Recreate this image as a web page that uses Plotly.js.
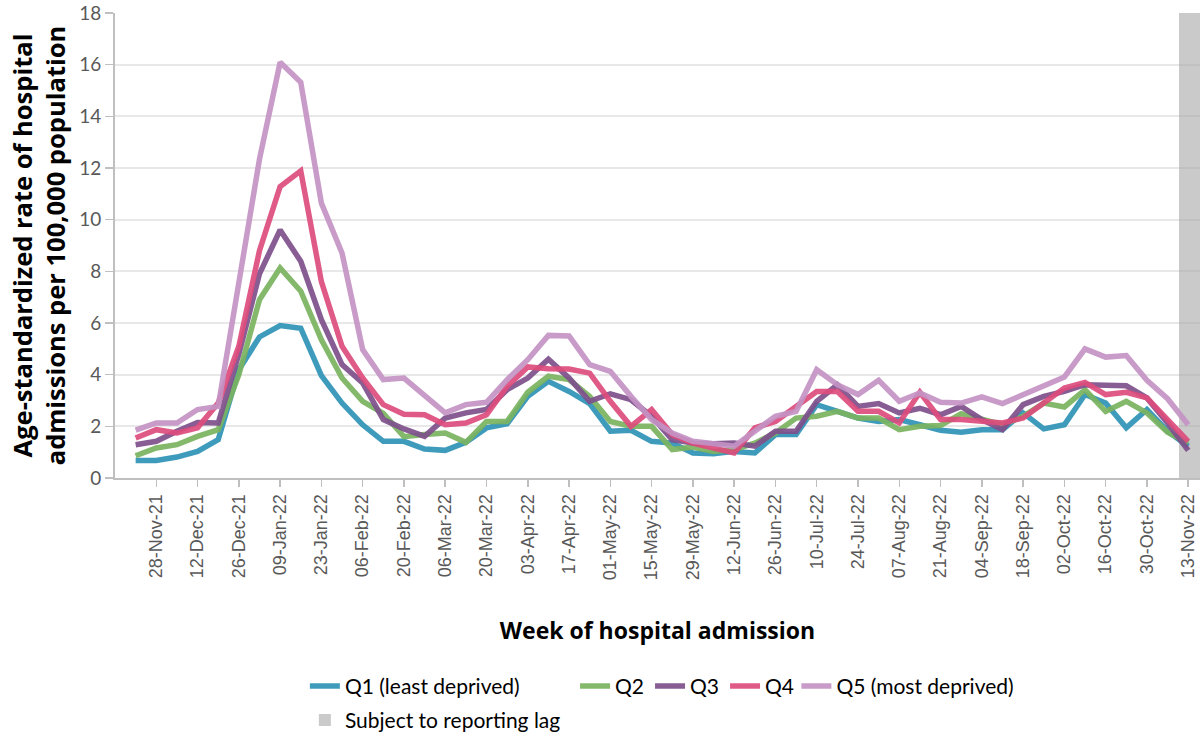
<!DOCTYPE html>
<html>
<head>
<meta charset="utf-8">
<script src="https://cdn.plot.ly/plotly-3.0.1.min.js"></script>
<style>
  html, body { margin: 0; padding: 0; background: #fff; }
  #chart { width: 1201px; height: 738px; }
</style>
</head>
<body>
<div id="chart"></div>
<script>
var weeks = [
  '2021-11-21','2021-11-28','2021-12-05','2021-12-12','2021-12-19','2021-12-26',
  '2022-01-02','2022-01-09','2022-01-16','2022-01-23','2022-01-30',
  '2022-02-06','2022-02-13','2022-02-20','2022-02-27',
  '2022-03-06','2022-03-13','2022-03-20','2022-03-27',
  '2022-04-03','2022-04-10','2022-04-17','2022-04-24',
  '2022-05-01','2022-05-08','2022-05-15','2022-05-22','2022-05-29',
  '2022-06-05','2022-06-12','2022-06-19','2022-06-26',
  '2022-07-03','2022-07-10','2022-07-17','2022-07-24','2022-07-31',
  '2022-08-07','2022-08-14','2022-08-21','2022-08-28',
  '2022-09-04','2022-09-11','2022-09-18','2022-09-25',
  '2022-10-02','2022-10-09','2022-10-16','2022-10-23','2022-10-30',
  '2022-11-06','2022-11-13'
];

var tickDates = [
  '2021-11-28','2021-12-12','2021-12-26','2022-01-09','2022-01-23','2022-02-06',
  '2022-02-20','2022-03-06','2022-03-20','2022-04-03','2022-04-17','2022-05-01',
  '2022-05-15','2022-05-29','2022-06-12','2022-06-26','2022-07-10','2022-07-24',
  '2022-08-07','2022-08-21','2022-09-04','2022-09-18','2022-10-02','2022-10-16',
  '2022-10-30','2022-11-13'
];
var tickLabels = [
  '28-Nov-21','12-Dec-21','26-Dec-21','09-Jan-22','23-Jan-22','06-Feb-22',
  '20-Feb-22','06-Mar-22','20-Mar-22','03-Apr-22','17-Apr-22','01-May-22',
  '15-May-22','29-May-22','12-Jun-22','26-Jun-22','10-Jul-22','24-Jul-22',
  '07-Aug-22','21-Aug-22','04-Sep-22','18-Sep-22','02-Oct-22','16-Oct-22',
  '30-Oct-22','13-Nov-22'
];

var q1 = [0.68,0.68,0.81,1.03,1.48,4.19,5.46,5.90,5.80,3.96,2.90,2.06,1.42,1.42,1.12,1.07,1.38,1.94,2.10,3.16,3.74,3.35,2.88,1.81,1.85,1.42,1.35,0.97,0.94,1.03,0.97,1.68,1.68,2.84,2.58,2.32,2.19,2.26,2.06,1.85,1.77,1.87,1.87,2.52,1.90,2.06,3.23,2.90,1.94,2.65,1.81,1.23];
var q2 = [0.86,1.16,1.29,1.61,1.87,4.00,6.90,8.13,7.23,5.35,3.87,2.97,2.50,1.60,1.68,1.74,1.38,2.19,2.19,3.32,3.94,3.81,3.16,2.19,2.00,2.00,1.10,1.20,1.03,1.10,1.35,1.74,2.32,2.39,2.58,2.32,2.32,1.87,2.00,2.03,2.49,2.26,2.06,2.39,2.90,2.75,3.42,2.58,2.97,2.52,1.77,1.35];
var q3 = [1.29,1.42,1.81,2.15,2.13,4.80,7.90,9.60,8.39,6.13,4.39,3.68,2.26,1.90,1.61,2.32,2.52,2.65,3.42,3.87,4.60,3.87,2.97,3.26,3.03,2.39,1.48,1.35,1.33,1.35,1.23,1.81,1.81,2.97,3.61,2.77,2.88,2.52,2.70,2.45,2.77,2.26,1.87,2.84,3.16,3.35,3.61,3.57,3.57,3.10,2.13,1.07];
var q4 = [1.55,1.87,1.74,1.94,2.90,5.10,8.80,11.28,11.89,7.60,5.10,3.87,2.84,2.47,2.45,2.06,2.13,2.45,3.55,4.30,4.23,4.22,4.06,2.97,2.00,2.65,1.68,1.35,1.16,0.97,1.94,2.19,2.77,3.35,3.35,2.58,2.58,2.13,3.32,2.26,2.26,2.19,2.13,2.32,2.90,3.48,3.70,3.23,3.32,3.10,2.26,1.42];
var q5 = [1.85,2.13,2.13,2.65,2.77,7.70,12.34,16.09,15.32,10.64,8.71,4.97,3.81,3.87,3.16,2.52,2.84,2.93,3.81,4.58,5.52,5.50,4.39,4.13,3.16,2.26,1.74,1.42,1.33,1.23,1.81,2.39,2.58,4.19,3.61,3.23,3.78,2.97,3.29,2.93,2.90,3.14,2.88,3.23,3.61,3.91,5.00,4.68,4.74,3.78,3.07,2.06];

var lagWeeks = ['2022-11-13'];
var lagHeight = [18];

var seriesNames = ['Q1 (least deprived)', 'Q2', 'Q3', 'Q4', 'Q5 (most deprived)'];
var seriesValues = [q1, q2, q3, q4, q5];
var seriesColors = ['#2E92B5', '#7AB360', '#7D4F8B', '#DC4C7C', '#C392C4'];
var seriesLegends = ['legend', 'legend2', 'legend2', 'legend2', 'legend4'];

var DAY = 86400000;
var legendFont = {family: 'Lato, "Open Sans", sans-serif', size: 21, color: '#000000'};

var traces = [];
traces.push({
  type: 'bar',
  x: lagWeeks,
  y: lagHeight,
  name: 'Subject to reporting lag',
  width: 7 * DAY,
  offset: -3 * DAY,
  marker: {color: 'rgba(166,166,166,0.6)', line: {width: 0}},
  legend: 'legend3',
  hoverinfo: 'skip'
});
for (var s = 0; s < seriesNames.length; s++) {
  traces.push({
    type: 'scatter',
    mode: 'lines',
    x: weeks,
    y: seriesValues[s],
    name: seriesNames[s],
    line: {color: seriesColors[s], width: 5.5, shape: 'linear'},
    opacity: 0.92,
    legend: seriesLegends[s]
  });
}

var layout = {
  width: 1201,
  height: 738,
  margin: {l: 115, r: 1, t: 13, b: 260, pad: 0, autoexpand: false},
  paper_bgcolor: '#ffffff',
  plot_bgcolor: '#ffffff',
  font: {family: 'Lato, "Open Sans", sans-serif', color: '#595959'},
  bargap: 0,
  xaxis: {
    type: 'date',
    range: ['2021-11-14', '2022-11-17'],
    tickmode: 'array',
    tickvals: tickDates,
    ticktext: tickLabels,
    tickangle: -90,
    tickfont: {family: '"Liberation Sans", Arial, sans-serif', size: 18, color: '#595959'},
    ticks: 'outside',
    ticklen: 7,
    tickwidth: 1.5,
    tickcolor: '#BFBFBF',
    showgrid: false,
    showline: true,
    linecolor: '#BFBFBF',
    linewidth: 2,
    zeroline: false,
    fixedrange: true,
    title: {
      text: 'Week of hospital admission',
      font: {family: '"Open Sans", Lato, sans-serif', size: 23, color: '#000000', weight: 'bold'},
      standoff: 44
    },
    automargin: false
  },
  yaxis: {
    range: [0, 18],
    dtick: 2,
    tick0: 0,
    tickfont: {family: 'Lato, "Open Sans", sans-serif', size: 19, color: '#595959'},
    ticks: 'outside',
    ticklen: 8,
    tickwidth: 1.5,
    tickcolor: '#BFBFBF',
    showgrid: true,
    gridcolor: '#E8E8E8',
    gridwidth: 2,
    showline: true,
    linecolor: '#BFBFBF',
    linewidth: 2,
    zeroline: false,
    fixedrange: true,
    title: {
      text: 'Age-standardized rate of hospital<br>admissions per 100,000 population',
      font: {family: '"Open Sans", Lato, sans-serif', size: 25.5, color: '#000000', weight: 'bold'},
      standoff: 6
    },
    automargin: false
  },
  showlegend: true,
  legend: {
    orientation: 'h',
    x: 0.175, xanchor: 'left',
    y: -0.404, yanchor: 'top',
    font: legendFont,
    bgcolor: 'rgba(0,0,0,0)'
  },
  legend2: {
    orientation: 'h',
    x: 0.424, xanchor: 'left',
    y: -0.404, yanchor: 'top',
    font: legendFont,
    entrywidth: 30,
    bgcolor: 'rgba(0,0,0,0)'
  },
  legend4: {
    orientation: 'h',
    x: 0.628, xanchor: 'left',
    y: -0.404, yanchor: 'top',
    font: legendFont,
    bgcolor: 'rgba(0,0,0,0)'
  },
  legend3: {
    orientation: 'h',
    x: 0.175, xanchor: 'left',
    y: -0.477, yanchor: 'top',
    font: legendFont,
    bgcolor: 'rgba(0,0,0,0)'
  }
};

Plotly.newPlot('chart', traces, layout, {displayModeBar: false, staticPlot: true});
</script>
</body>
</html>
